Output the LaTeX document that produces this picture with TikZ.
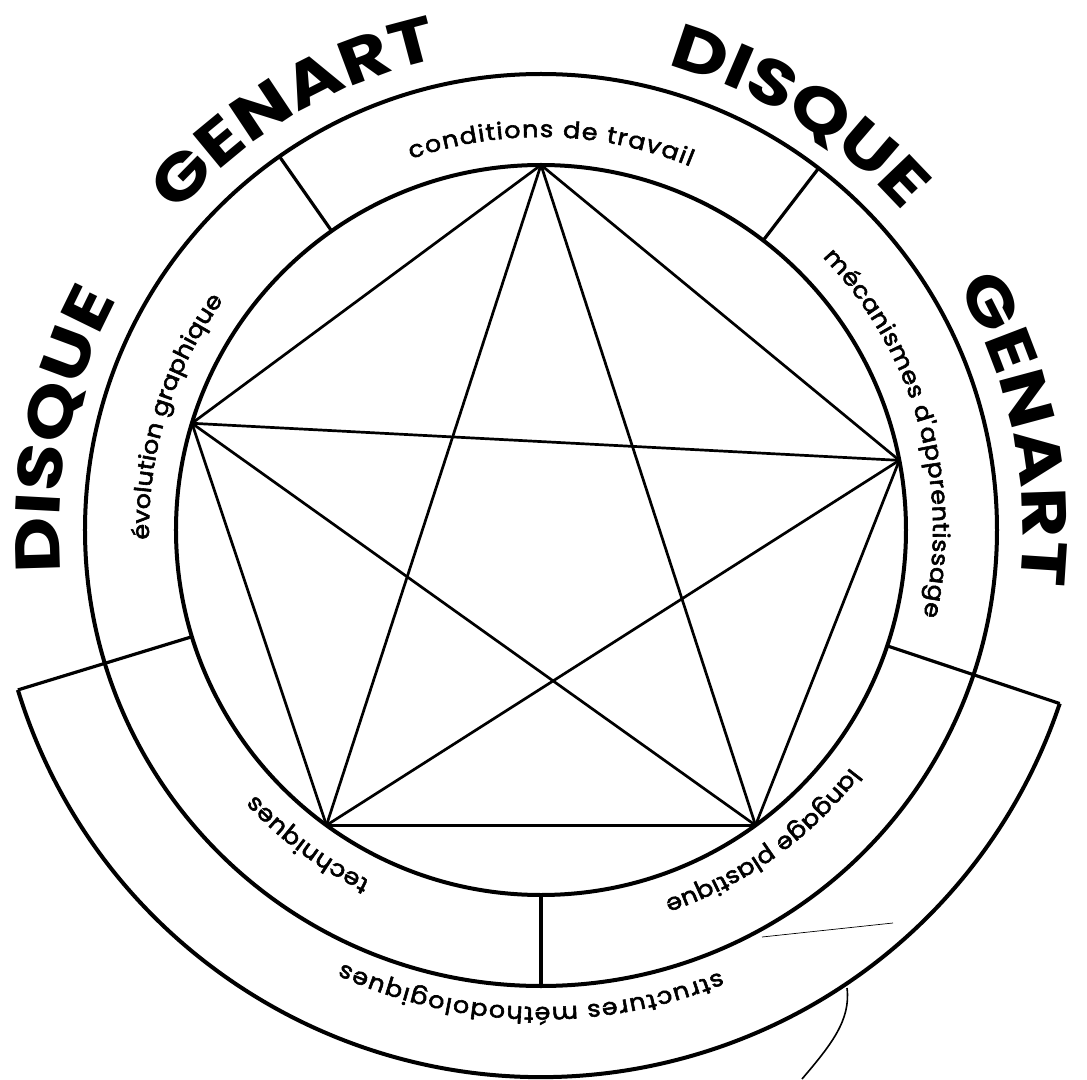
\documentclass[tikz,border=0pt]{standalone}
\usepackage{fontspec}
\setmainfont{Poppins}
\newfontfamily\lblfont{Poppins}[FakeStretch=1.1,FakeBold=2.5]
\newfontfamily\wordfont{Poppins}[FakeStretch=1.22]
\usetikzlibrary{decorations.text}

\begin{document}
\begin{tikzpicture}[x=1pt,y=1pt,
  ring/.style={draw=black,line width=4pt},
  sep/.style={draw=black,line width=3.2pt},
  star/.style={draw=black,line width=2.7pt},
  stray/.style={draw=black,line width=1.6pt},
  arclbl/.style={decorate,decoration={text along path,text align={fit to path},
                 text={|\lblfont\fontsize{23}{23}\selectfont|#1}}},
  bigword/.style={decorate,decoration={text along path,text align={fit to path},
                 text={|\wordfont\bfseries\fontsize{63}{63}\selectfont|#1}}}]

\useasboundingbox (-541,-549) rectangle (546,530);

% rings -- disc, inner ring, bottom band
\draw[ring] (0,0) circle[radius=365];
\draw[ring] (0,0) circle[radius=456];
\draw[ring] (197:547) arc[start angle=197,end angle=341.5,radius=547];

% sector borders
\foreach \a in {125,52.5,-18.5,-90,197}
  \draw[sep] (\a:365) -- (\a:456);
\draw[sep] (197:456) -- (197:547);
\draw[sep] (-18.5:456) -- (-18.5:547);

% pentagon + star
\coordinate (cond) at (90:365);
\coordinate (meca) at (11:365);
\coordinate (lang) at (-54:365);
\coordinate (tech) at (-126:365);
\coordinate (evol) at (163:365);
\foreach \p/\q in {cond/meca,meca/lang,lang/tech,tech/evol,evol/cond,
                   cond/lang,cond/tech,meca/tech,meca/evol,lang/evol}
  \draw[star] (\p) -- (\q);

% sector labels
\path[arclbl={conditions de travail}] (109.3:393) arc[start angle=109.3,end angle=67.7,radius=393];
\path[arclbl={mécanismes d'apprentissage}] (44.1:392) arc[start angle=44.1,end angle=-12.7,radius=392];
\path[arclbl={langage plastique}] (-37.5:390) arc[start angle=-37.5,end angle=-71.3,radius=390];
\path[arclbl={techniques}] (-116:390) arc[start angle=-116,end angle=-137.2,radius=390];
\path[arclbl={évolution graphique}] (181.4:392) arc[start angle=181.4,end angle=145.2,radius=392];
\path[arclbl={structures méthodologiques}] (-67.9:477) arc[start angle=-67.9,end angle=-114.6,radius=477];

% title round the disc
\path[bigword={DISQUE}] (185:482) arc[start angle=185,end angle=151.7,radius=482];
\path[bigword={GENART}] (139:482) arc[start angle=139,end angle=104,radius=482];
\path[bigword={DISQUE}] (74.8:482) arc[start angle=74.8,end angle=42.8,radius=482];
\path[bigword={GENART}] (30.4:482) arc[start angle=30.4,end angle=-5.9,radius=482];

% pen strokes
\coordinate (p1) at (306,-458);
\coordinate (p2) at (261,-549);
\draw[stray] (p1) .. controls (310,-490) and (290,-515) .. (p2);
\coordinate (q1) at (221,-407);
\coordinate (q2) at (352,-393);
\draw[draw=black,line width=0.7pt] (q1) -- (q2);

\end{tikzpicture}
\end{document}
